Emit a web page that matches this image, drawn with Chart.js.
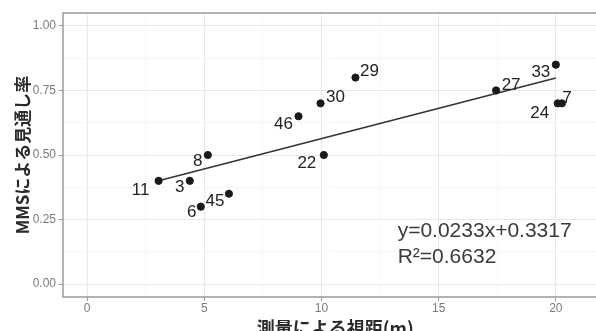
<!DOCTYPE html>
<html>
<head>
<meta charset="utf-8">
<script src="https://cdn.jsdelivr.net/npm/chart.js@4/dist/chart.umd.min.js"></script>
<style>
  html, body { margin: 0; padding: 0; background: #fff; overflow: hidden; }
  #wrap { width: 596px; height: 331px; overflow: hidden; position: relative; }
  #myChart { position: absolute; left: 0; top: 0; }
</style>
</head>
<body>
<div id="wrap"><canvas id="myChart" width="612" height="331"></canvas></div>
<script>
// site numbers and measured values
const siteIds = ["11", "3", "8", "6", "45", "46", "30", "22", "29", "27", "33", "24", "7"];
const sightDist = [3.05, 4.38, 5.15, 4.85, 6.05, 9.02, 9.96, 10.1, 11.45, 17.45, 20.0, 20.08, 20.26];
const mmsRate = [0.40, 0.40, 0.50, 0.30, 0.35, 0.65, 0.70, 0.50, 0.80, 0.75, 0.85, 0.70, 0.70];

// fitted line ends
const fitX = [3.05, 20.0];
const fitY = [0.40, 0.798];

const xTicks = [0, 2.5, 5, 7.5, 10, 12.5, 15, 17.5, 20];
const yTicks = [0, 0.125, 0.25, 0.375, 0.5, 0.625, 0.75, 0.875, 1.0];
const eqLines = ["y=0.0233x+0.3317", "R²=0.6632"];

// label offsets from the point (px), keyed by site
const labelOffsets = {
  "11": [-18, 9], "3": [-10, 6], "8": [-10, 6], "6": [-9, 6], "45": [-14, 8],
  "46": [-15, 8], "30": [15, -6], "22": [-17, 8], "29": [14, -6], "27": [15, -5],
  "33": [-15, 8], "24": [-18, 10], "7": [5, -5]
};

function isMajor(v, step) {
  return Math.abs(v / step - Math.round(v / step)) < 1e-6;
}

const pointLabels = {
  id: 'pointLabels',
  afterDatasetsDraw(chart) {
    const ctx = chart.ctx;
    const meta = chart.getDatasetMeta(0);
    ctx.save();
    ctx.font = '17px "Liberation Sans", Arial, sans-serif';
    ctx.fillStyle = '#222';
    ctx.textAlign = 'center';
    ctx.textBaseline = 'middle';
    meta.data.forEach((pt, i) => {
      const off = labelOffsets[siteIds[i]] || [0, 0];
      ctx.fillText(siteIds[i], pt.x + off[0], pt.y + off[1]);
    });

    // equation text
    const xs = chart.scales.x, ys = chart.scales.y;
    ctx.font = '21px "Liberation Sans", Arial, sans-serif';
    ctx.fillStyle = '#3a3a3a';
    ctx.textAlign = 'left';
    ctx.fillText(eqLines[0], xs.getPixelForValue(13.25), ys.getPixelForValue(0.205));
    ctx.fillText(eqLines[1], xs.getPixelForValue(13.25), ys.getPixelForValue(0.105));
    ctx.restore();
  }
};

const panelBorder = {
  id: 'panelBorder',
  beforeDatasetsDraw(chart) {
    const a = chart.chartArea;
    const ctx = chart.ctx;
    ctx.save();
    ctx.strokeStyle = '#9a9a9a';
    ctx.lineWidth = 1.5;
    ctx.strokeRect(a.left, a.top, a.right - a.left, a.bottom - a.top);
    ctx.restore();
  }
};

function setup() {
  const ctx = document.getElementById('myChart').getContext('2d');

  const points = sightDist.map((v, i) => ({ x: v, y: mmsRate[i] }));
  const fit = fitX.map((v, i) => ({ x: v, y: fitY[i] }));

  new Chart(ctx, {
    type: 'scatter',
    data: {
      datasets: [
        {
          data: points,
          backgroundColor: '#1a1a1a',
          borderColor: '#1a1a1a',
          pointRadius: 3.6,
          pointHoverRadius: 3.6
        },
        {
          type: 'line',
          data: fit,
          borderColor: '#333',
          borderWidth: 1.5,
          pointRadius: 0,
          fill: false
        }
      ]
    },
    options: {
      responsive: false,
      animation: false,
      devicePixelRatio: 1,
      layout: { padding: { left: 0, right: 3, top: 13, bottom: 0 } },
      plugins: { legend: { display: false }, tooltip: { enabled: false } },
      scales: {
        x: {
          type: 'linear',
          min: -1.03,
          max: 22.2,
          afterBuildTicks: s => { s.ticks = xTicks.map(v => ({ value: v })); },
          afterFit: s => { s.height = 34; },
          border: { display: false },
          grid: {
            color: c => isMajor(c.tick.value, 5) ? '#e8e8e8' : '#f2f2f2',
            lineWidth: c => isMajor(c.tick.value, 5) ? 1 : 0.7,
            tickColor: c => isMajor(c.tick.value, 5) ? '#999' : 'rgba(0,0,0,0)',
            tickLength: 4
          },
          ticks: {
            autoSkip: false,
            maxRotation: 0,
            padding: 0,
            color: '#7a7a7a',
            font: { family: '"Liberation Sans", Arial, sans-serif', size: 12 },
            callback: v => isMajor(v, 5) ? String(v) : ''
          },
          title: {
            display: true,
            text: '測量による視距(m)',
            color: '#2a2a2a',
            font: { family: '"Noto Sans CJK JP", sans-serif', size: 18, weight: 'bold' },
            padding: { top: 0, bottom: -8 }
          }
        },
        y: {
          type: 'linear',
          min: -0.05,
          max: 1.05,
          afterBuildTicks: s => { s.ticks = yTicks.map(v => ({ value: v })); },
          afterFit: s => { s.width = 63; },
          border: { display: false },
          grid: {
            color: c => isMajor(c.tick.value, 0.25) ? '#e8e8e8' : '#f2f2f2',
            lineWidth: c => isMajor(c.tick.value, 0.25) ? 1 : 0.7,
            tickColor: c => isMajor(c.tick.value, 0.25) ? '#999' : 'rgba(0,0,0,0)',
            tickLength: 4
          },
          ticks: {
            autoSkip: false,
            padding: 3,
            color: '#7a7a7a',
            font: { family: '"Liberation Sans", Arial, sans-serif', size: 12 },
            callback: v => isMajor(v, 0.25) ? v.toFixed(2) : ''
          },
          title: {
            display: true,
            text: 'MMSによる見通し率',
            color: '#2a2a2a',
            font: { family: '"Noto Sans CJK JP", sans-serif', size: 17, weight: 'bold' },
            padding: { top: 12, bottom: 0 }
          }
        }
      }
    },
    plugins: [panelBorder, pointLabels]
  });
}

setup();
</script>
</body>
</html>
